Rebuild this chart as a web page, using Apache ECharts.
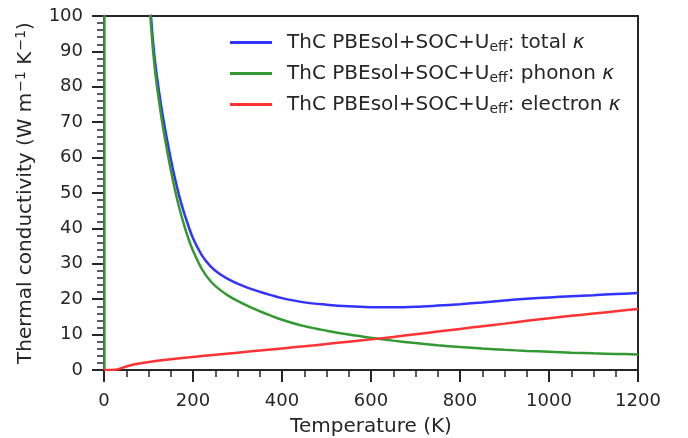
<!DOCTYPE html>
<html>
<head>
<meta charset="utf-8">
<script src="https://cdn.jsdelivr.net/npm/echarts@6/dist/echarts.min.js"></script>
<style>
  html, body { margin: 0; padding: 0; background: #fff; }
  #chart { width: 688px; height: 438px; }
</style>
</head>
<body>
<div id="chart"></div>
<script>
// Temperature grids (K) and conductivities (W m^-1 K^-1) for each contribution
const tTotal = [80, 90, 100, 105, 110, 115, 120, 130, 140, 150, 160, 170, 180, 190, 200, 220, 240, 260, 280, 300, 325, 350, 375, 400, 450, 500, 550, 600, 650, 700, 750, 800, 850, 900, 950, 1000, 1050, 1100, 1150, 1200];
const kTotal = [153.9, 130.1, 109.8, 100.9, 93.0, 86.8, 81.9, 73.4, 66.2, 59.7, 53.8, 48.7, 44.4, 40.6, 37.2, 32.4, 29.2, 27.1, 25.6, 24.4, 23.15, 22.1, 21.15, 20.3, 19.1, 18.45, 18.0, 17.75, 17.7, 17.85, 18.2, 18.6, 19.1, 19.65, 20.1, 20.5, 20.85, 21.15, 21.45, 21.75];

const tPhonon = [1, 1.2, 80, 90, 100, 105, 110, 115, 120, 130, 140, 150, 160, 170, 180, 190, 200, 220, 240, 260, 280, 300, 325, 350, 375, 400, 450, 500, 550, 600, 650, 700, 750, 800, 850, 900, 950, 1000, 1050, 1100, 1150, 1200];
const kPhonon = [0, 30000, 152, 128, 107.5, 98.5, 90.5, 84.2, 79.2, 70.6, 63.2, 56.6, 50.6, 45.4, 40.9, 37.0, 33.7, 28.5, 25.0, 22.7, 20.95, 19.5, 17.95, 16.6, 15.35, 14.2, 12.4, 11.1, 10.0, 9.1, 8.3, 7.6, 7.0, 6.5, 6.05, 5.7, 5.4, 5.15, 4.9, 4.7, 4.55, 4.4];

const tElectron = [0, 25, 50, 75, 100, 125, 150, 200, 250, 300, 350, 400, 450, 500, 550, 600, 650, 700, 750, 800, 850, 900, 950, 1000, 1050, 1100, 1150, 1200];
const kElectron = [0, 0.1, 1.0, 1.75, 2.25, 2.7, 3.05, 3.7, 4.3, 4.9, 5.5, 6.1, 6.7, 7.35, 8.0, 8.65, 9.35, 10.1, 10.85, 11.6, 12.35, 13.1, 13.9, 14.6, 15.3, 15.95, 16.6, 17.25];

const seriesNames = ['total', 'phonon', 'electron'];
const seriesColors = ['#3333ff', '#339933', '#ff3333'];

const xTicks = { min: 0, max: 1200, step: 200 };
const yTicks = { min: 0, max: 100, step: 10 };

const FONT = 'DejaVu Sans';
const INK = '#262626';

function pairs(ts, ks) { return ts.map((t, i) => [t, ks[i]]); }

const chart = echarts.init(document.getElementById('chart'), null, { renderer: 'canvas' });

const axisCommon = {
  type: 'value',
  axisLine: { show: true, onZero: false, lineStyle: { color: INK, width: 2 } },
  axisTick: { show: true, inside: false, length: 12, lineStyle: { color: INK, width: 2 } },
  minorTick: { show: true, length: 7, lineStyle: { color: INK, width: 1.5 } },
  axisLabel: { color: INK, fontSize: 18, fontFamily: FONT, formatter: v => String(v) },
  splitLine: { show: false },
  minorSplitLine: { show: false },
  nameTextStyle: { color: INK, fontSize: 20, fontFamily: FONT }
};

chart.setOption({
  animation: false,
  backgroundColor: '#ffffff',
  grid: {
    left: 104, right: 50, top: 16, bottom: 68,
    containLabel: false, outerBoundsMode: 'none',
    show: true, borderColor: INK, borderWidth: 2, backgroundColor: 'transparent'
  },
  xAxis: Object.assign({}, axisCommon, {
    min: xTicks.min, max: xTicks.max, interval: xTicks.step,
    minorTick: Object.assign({}, axisCommon.minorTick, { splitNumber: 4 }),
    axisLabel: Object.assign({}, axisCommon.axisLabel, { margin: 22 }),
    name: 'Temperature (K)', nameLocation: 'middle', nameGap: 47
  }),
  yAxis: Object.assign({}, axisCommon, {
    min: yTicks.min, max: yTicks.max, interval: yTicks.step,
    minorTick: Object.assign({}, axisCommon.minorTick, { splitNumber: 5 }),
    axisLabel: Object.assign({}, axisCommon.axisLabel, { margin: 21 }),
    name: '{a|Thermal conductivity (W m}{s|\u22121}{a| K}{s|\u22121}{a|)}',
    nameLocation: 'middle', nameGap: 65, nameRotate: 90,
    nameTextStyle: {
      color: INK, fontSize: 20, fontFamily: FONT,
      rich: {
        a: { color: INK, fontSize: 20, fontFamily: FONT, lineHeight: 24 },
        s: { color: INK, fontSize: 14, fontFamily: FONT, lineHeight: 24, padding: [0, 0, 9, 1] }
      }
    }
  }),
  legend: {
    orient: 'vertical',
    left: 230, top: 31, padding: 0,
    itemWidth: 42, itemHeight: 3, itemGap: 8,
    icon: 'rect',
    data: seriesNames,
    formatter: function (name) {
      return '{a|ThC PBEsol+SOC+U}{s|eff}{b|: ' + name + ' }{k|\u03BA}';
    },
    textStyle: {
      color: INK, fontFamily: FONT, fontSize: 20,
      rich: {
        a: { fontFamily: FONT, fontSize: 20, color: INK, lineHeight: 22, padding: [0, 0, 0, 10] },
        s: { fontFamily: FONT, fontSize: 14, color: INK, lineHeight: 22, padding: [9, 0, 0, 0] },
        b: { fontFamily: FONT, fontSize: 20, color: INK, lineHeight: 22 },
        k: { fontFamily: FONT, fontSize: 20, fontStyle: 'italic', color: INK, lineHeight: 22 }
      }
    }
  },
  series: [
    { name: seriesNames[0], data: pairs(tTotal, kTotal) },
    { name: seriesNames[1], data: pairs(tPhonon, kPhonon) },
    { name: seriesNames[2], data: pairs(tElectron, kElectron) }
  ].map((s, i) => Object.assign({
    type: 'line',
    showSymbol: false,
    smooth: 0.35,
    clip: true,
    color: seriesColors[i],
    lineStyle: { color: seriesColors[i], width: 2.5 }
  }, s))
});
</script>
</body>
</html>
